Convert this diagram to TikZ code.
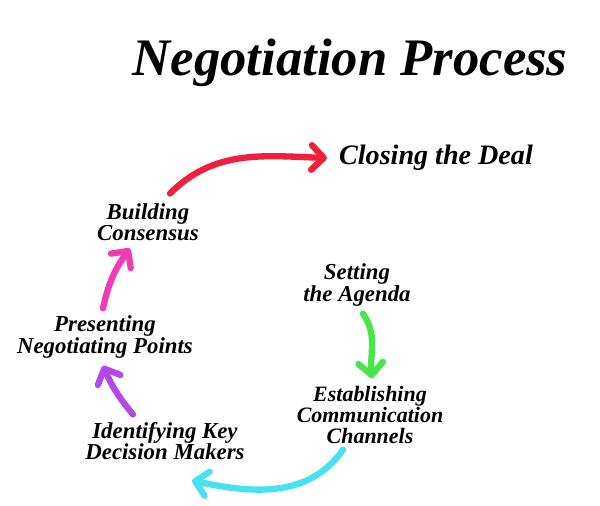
\documentclass[tikz,border=0pt]{standalone}
\usepackage{fontspec}
\setmainfont{Liberation Serif}
\usetikzlibrary{arrows.meta, positioning}

\definecolor{dealred}{RGB}{238,32,60}
\definecolor{buildpink}{RGB}{240,60,180}
\definecolor{keypurple}{RGB}{180,72,230}
\definecolor{chancyan}{RGB}{70,226,240}
\definecolor{agendagreen}{RGB}{72,230,72}

\tikzset{
  stage/.style={align=center, font=\bfseries\itshape\fontsize{13}{12}\selectfont, inner sep=2pt},
  flow/.style={line width=3.6pt, line cap=round, -{Straight Barb[round, length=7pt, width=14pt]}},
}

\begin{document}
\begin{tikzpicture}[x=0.02cm, y=0.02cm]
    \useasboundingbox (0,0) rectangle (600,506);

    \node [font=\bfseries\itshape\fontsize{30}{32}\selectfont] (title) at (350,443) {Negotiation Process};
    \node [font=\bfseries\itshape\fontsize{16}{18}\selectfont] (closing) at (436,348) {Closing the Deal};
    \node [stage] (build) at (148,284) {Building\\Consensus};
    \node [stage] (agenda) at (357,221) {Setting\\the Agenda};
    \node [stage] (present) at (105,169) {Presenting\\Negotiating Points};
    \node [stage, font=\bfseries\itshape\fontsize{12.5}{12}\selectfont] (establish) at (370,91) {Establishing\\Communication\\Channels};
    \node [stage] (identify) at (165,65) {Identifying Key\\Decision Makers};

 \draw[flow, dealred] ([shift={(22,6)}]build.north) to[out=45, in=178] ([xshift=-0.12cm]closing.west);
 \draw[flow, agendagreen] ([shift={(6,-4)}]agenda.south) to[out=-55, in=95] ([shift={(2,4)}]establish.north);
 \draw[flow, chancyan] ([shift={(-27,-2)}]establish.south) to[out=-125, in=-12] ([shift={(27,-17)}]identify.south);
 \draw[flow, keypurple] ([shift={(-32,4)}]identify.north) to[bend left=8] ([shift={(-2,-4)}]present.south);
 \draw[flow, buildpink] ([shift={(-2,4)}]present.north) to[bend left=12] ([shift={(-18,-4)}]build.south);
\end{tikzpicture}
\end{document}
